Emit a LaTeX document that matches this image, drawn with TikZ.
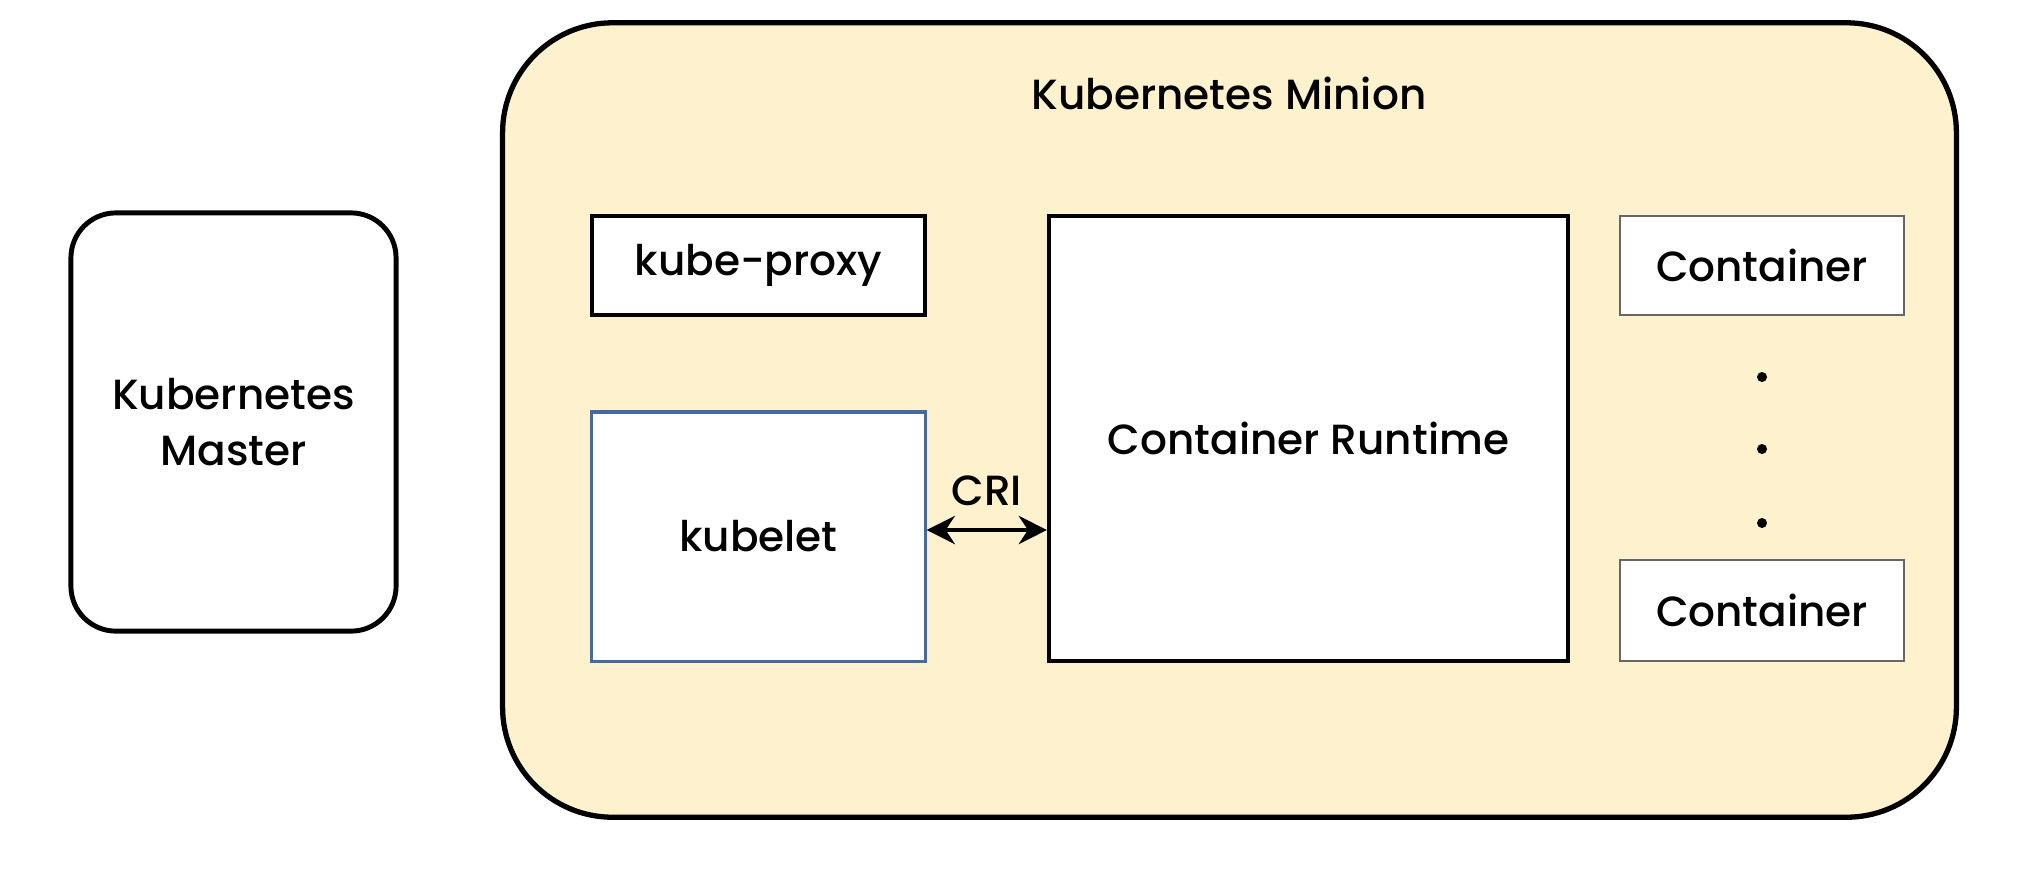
\documentclass[tikz,border=0pt]{standalone}
\usepackage{fontspec}
\setmainfont{Poppins}[UprightFont=* Medium]
\usetikzlibrary{arrows.meta}

\definecolor{minionfill}{RGB}{253,241,206}
\definecolor{kubeletblue}{RGB}{70,106,160}

\tikzset{
    label/.style={font=\fontsize{12}{16}\selectfont},
    part/.style={draw, fill=white, line width=1.1pt, inner sep=0pt, label},
    holder/.style={draw, gray!80!black, fill=white, line width=0.5pt, inner sep=0pt, text=black, label},
    dotmark/.style={circle, fill=black, inner sep=0pt, minimum size=0.1cm}
}

\begin{document}
\begin{tikzpicture}[x=0.01cm, y=-0.01cm]
    \useasboundingbox (0,0) rectangle (2024,881);

    % master and minion
    \node[draw, line width=1.4pt, rounded corners=0.45cm, minimum width=3.25cm, minimum height=4.18cm,
          align=center, label] (master) at (233.5,422) {Kubernetes\\Master};
    \node[draw, fill=minionfill, line width=1.5pt, rounded corners=1.1cm,
          minimum width=14.53cm, minimum height=7.94cm] (minion) at (1229.5,420) {};
    \node[label] (title) at (1229,93) {Kubernetes Minion};

    % minion parts
    \node[part, minimum width=3.33cm, minimum height=0.99cm] (proxy) at (758.5,265.5) {kube-proxy};
    \node[part, draw=kubeletblue, line width=0.9pt, minimum width=3.33cm, minimum height=2.49cm] (kubelet) at (758.5,536.5) {kubelet};
    \node[part, minimum width=5.19cm, minimum height=4.45cm] (runtime) at (1308.5,438.5) {};
    \node[label] (runtimelabel) at (1308.5,438.5) {Container Runtime};

    \node[holder, minimum width=2.84cm, minimum height=0.99cm] (cont1) at (1762,265.5) {Container};
    \node[holder, minimum width=2.84cm, minimum height=1.01cm] (cont2) at (1762,610.5) {Container};

    %\draw[red] (cont1) -- (cont2);
    \foreach \y/\n in {377/a, 449/b, 523/c}
        \node[dotmark] (dot\n) at (1762,\y) {};

    % CRI
    \coordinate (crileft) at ([yshift=0.065cm]kubelet.east);
    \coordinate (criright) at (crileft -| runtime.west);
    \draw[{Stealth[length=8pt,width=8pt]}-{Stealth[length=8pt,width=8pt]}, line width=1.2pt] (crileft) -- (criright)
        node[midway, above=0.1cm, label] (cri) {CRI};
\end{tikzpicture}
\end{document}
